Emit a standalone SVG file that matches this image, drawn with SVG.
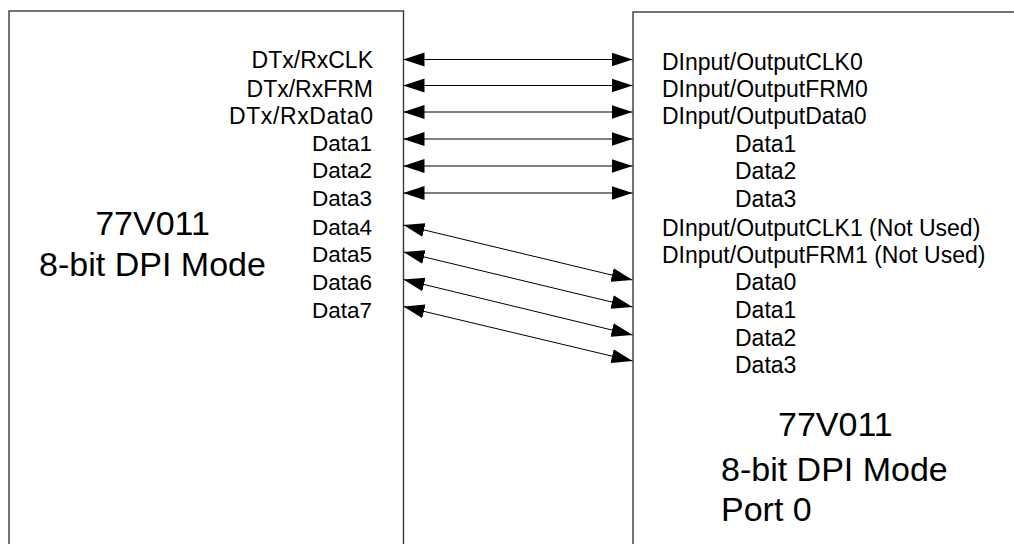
<svg xmlns="http://www.w3.org/2000/svg" width="1014" height="544" viewBox="0 0 1014 544">
<defs>
<marker id="ah" markerWidth="21" markerHeight="15" refX="21" refY="7.5" orient="auto-start-reverse" markerUnits="userSpaceOnUse">
<path d="M0,0.5 L21,7.5 L0,14.5 Z" fill="#000"/>
</marker>
<style>
.box{fill:#fff;stroke:#3a3a3a;stroke-width:1.4}
.lbl{font-family:"Liberation Sans",Arial,sans-serif;font-size:22.5px;fill:#000}
.lbl2{font-family:"Liberation Sans",Arial,sans-serif;font-size:23px;fill:#000}
.big{font-family:"Liberation Sans",Arial,sans-serif;font-size:34px;fill:#000}
.conn{stroke:#000;stroke-width:1;fill:none;marker-start:url(#ah);marker-end:url(#ah)}
</style>
</defs>
<rect width="1014" height="544" fill="#fff"/>
<g id="left-chip">
<rect class="box" x="9" y="11" width="394.5" height="560"/>
<text class="big" x="152.5" y="235" text-anchor="middle">77V011</text>
<text class="big" x="152.5" y="276" text-anchor="middle">8-bit DPI Mode</text>
<g text-anchor="end">
<text class="lbl2" x="373" y="68">DTx/RxCLK</text>
<text class="lbl2" x="373" y="96.5">DTx/RxFRM</text>
<text class="lbl2" x="373" y="123.5" textLength="144">DTx/RxData0</text>
<text class="lbl" x="372" y="151">Data1</text>
<text class="lbl" x="372" y="178">Data2</text>
<text class="lbl" x="372" y="206">Data3</text>
<text class="lbl" x="372" y="235">Data4</text>
<text class="lbl" x="372" y="262">Data5</text>
<text class="lbl" x="372" y="290">Data6</text>
<text class="lbl" x="372" y="318">Data7</text>
</g>
</g>
<g id="right-chip">
<rect class="box" x="633" y="12" width="420" height="560"/>
<g class="lbl2">
<text x="662" y="70">DInput/OutputCLK0</text>
<text x="662" y="97">DInput/OutputFRM0</text>
<text x="662" y="124">DInput/OutputData0</text>
<text x="735" y="152">Data1</text>
<text x="735" y="179">Data2</text>
<text x="735" y="207">Data3</text>
<text x="662" y="236">DInput/OutputCLK1 (Not Used)</text>
<text x="662" y="263">DInput/OutputFRM1 (Not Used)</text>
<text x="735" y="290">Data0</text>
<text x="735" y="318">Data1</text>
<text x="735" y="346">Data2</text>
<text x="735" y="373">Data3</text>
</g>
<text class="big" x="778" y="436">77V011</text>
<text class="big" x="721" y="481">8-bit DPI Mode</text>
<text class="big" x="721" y="521">Port 0</text>
</g>
<g id="connectors">
<line class="conn" x1="403.5" y1="59.5" x2="632.5" y2="59.5"/>
<line class="conn" x1="403.5" y1="85.5" x2="632.5" y2="85.5"/>
<line class="conn" x1="403.5" y1="112" x2="632.5" y2="112"/>
<line class="conn" x1="403.5" y1="139" x2="632.5" y2="139"/>
<line class="conn" x1="403.5" y1="166" x2="632.5" y2="166"/>
<line class="conn" x1="403.5" y1="193" x2="632.5" y2="193"/>
<line class="conn" x1="403.5" y1="225" x2="632.5" y2="280"/>
<line class="conn" x1="403.5" y1="252" x2="632.5" y2="307"/>
<line class="conn" x1="403.5" y1="279.5" x2="632.5" y2="335"/>
<line class="conn" x1="403.5" y1="306.5" x2="632.5" y2="361"/>
</g>
</svg>
